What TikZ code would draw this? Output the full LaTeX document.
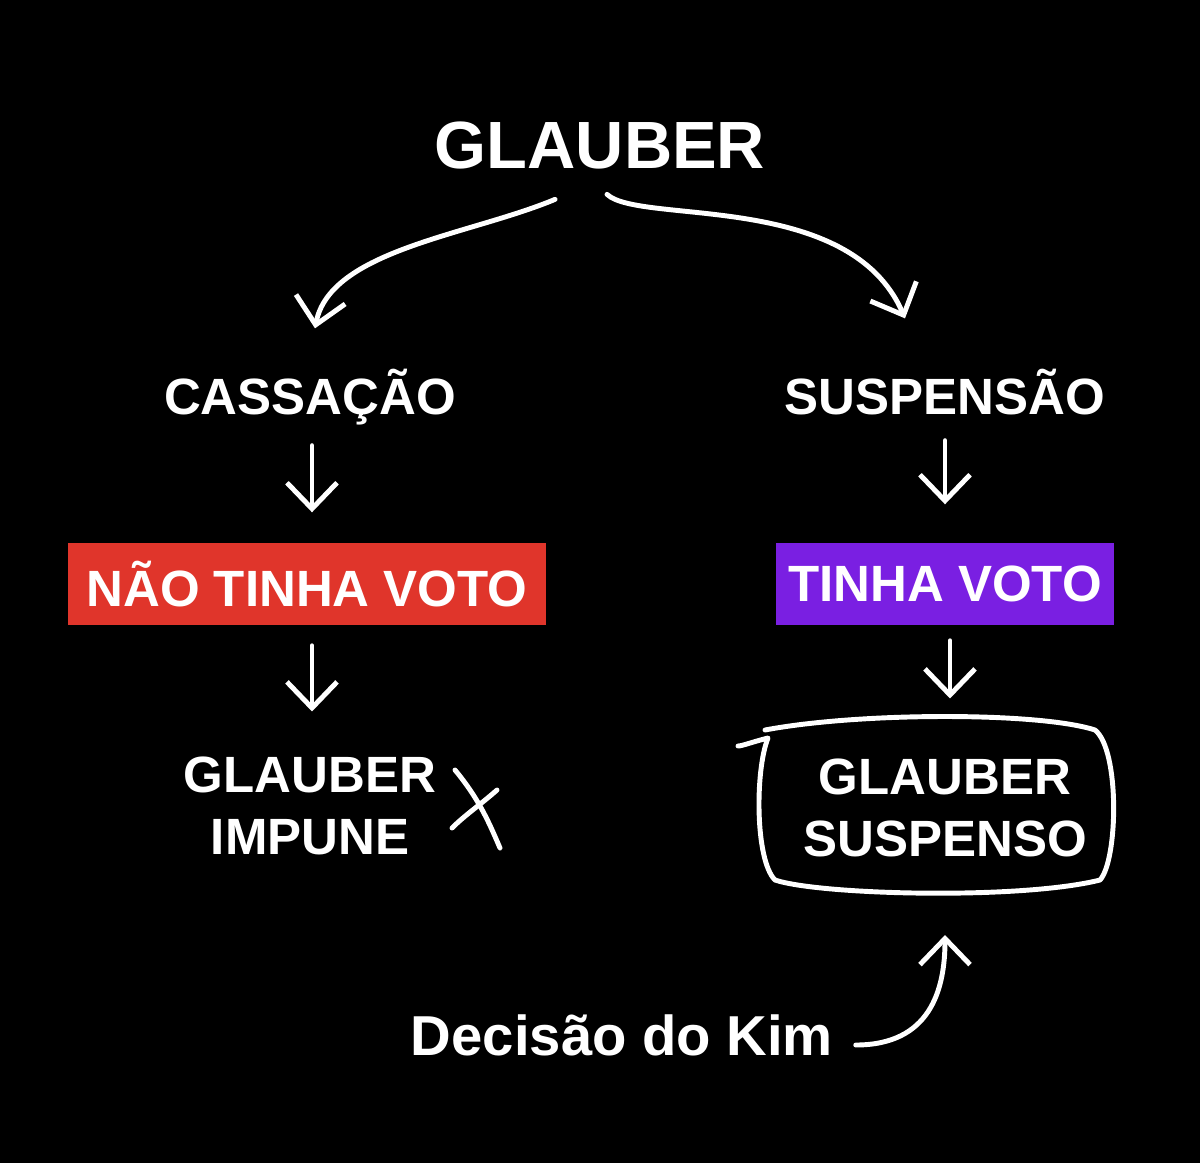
\documentclass[tikz,border=0pt]{standalone}
\usepackage{fontspec}
\setmainfont{Liberation Sans}
\usetikzlibrary{arrows.meta,positioning,calc}
\definecolor{boxred}{HTML}{E0352B}
\definecolor{boxpurple}{HTML}{7A1FE2}

\begin{document}
\begin{tikzpicture}[
    x=0.01cm, y=-0.01cm,
    txt/.style={text=white, font=\bfseries, align=center, inner sep=0pt},
    bigtxt/.style={txt, font=\fontsize{19}{22}\selectfont\bfseries},
    midtxt/.style={txt, font=\fontsize{14.5}{17.5}\selectfont\bfseries},
    colbox/.style={midtxt, minimum width=4.78cm, minimum height=0.82cm},
    chalk/.style={draw=white, line width=1.4pt, line cap=round, line join=round},
    arrow/.style={chalk, -{Straight Barb[length=2.6mm, width=5mm, line width=1.4pt]}}
]
    \useasboundingbox[fill=black] (0,0) rectangle (1200,1163);

    % Titolo
    \node[bigtxt] (title) at (600,145) {GLAUBER};

    % Rami
    \node[midtxt] (cass) at (310,397) {CASSAÇÃO};
    \node[midtxt] (susp) at (945,392) {SUSPENSÃO};

    % Box colorati
    \node[colbox, fill=boxred] (nao) at (307,584) {NÃO TINHA VOTO};
    \node[colbox, fill=boxpurple, minimum width=3.37cm] (tinha) at (945,584) {TINHA VOTO};

    % Esiti
    \node[midtxt] (impune) at (310,806) {GLAUBER\\IMPUNE};
    \node[midtxt] (suspenso) at (945,808) {GLAUBER\\SUSPENSO};

    % Decisione
    \node[txt, font=\fontsize{16}{19}\selectfont\bfseries] (kim) at (622,1035) {Decisão do Kim};

    % Frecce
    \draw[arrow] ($(title.south)+(-45,30)$) .. controls (470,235) and (330,250) .. ($(cass.north)+(5,-40)$);
    \draw[arrow] ($(title.south)+(7,25)$) .. controls (640,225) and (850,190) .. ($(susp.north)+(-40,-50)$);
    \draw[arrow] ($(cass.south)+(2,20)$) -- ($(nao.north)+(5,-30)$);
    \draw[arrow] ($(susp.south)+(0,25)$) -- ($(tinha.north)+(0,-38)$);
    \draw[arrow] ($(nao.south)+(5,20)$) -- ($(impune.north)+(2,-45)$);
    \draw[arrow] ($(tinha.south)+(5,15)$) -- ($(suspenso.north)+(5,-60)$);

    % Cornice a mano
    \coordinate (tip) at (945,935);
    \draw[chalk] (765,730) .. controls (860,712) and (1040,712) .. (1095,730)
        .. controls (1120,750) and (1118,860) .. (1100,880)
        .. controls (1020,900) and (820,895) .. (775,880)
        .. controls (755,860) and (755,770) .. (768,738)
        .. controls (752,742) and (742,746) .. (738,746);
    \draw[arrow] ($(kim.east)+(22,10)$) .. controls (930,1045) and (945,990) .. (tip);

    % Croce
    \draw[chalk] (455,770) .. controls (480,800) and (490,825) .. (500,848);
    \draw[chalk] (497,790) .. controls (480,805) and (465,815) .. (452,828);
\end{tikzpicture}
\end{document}
